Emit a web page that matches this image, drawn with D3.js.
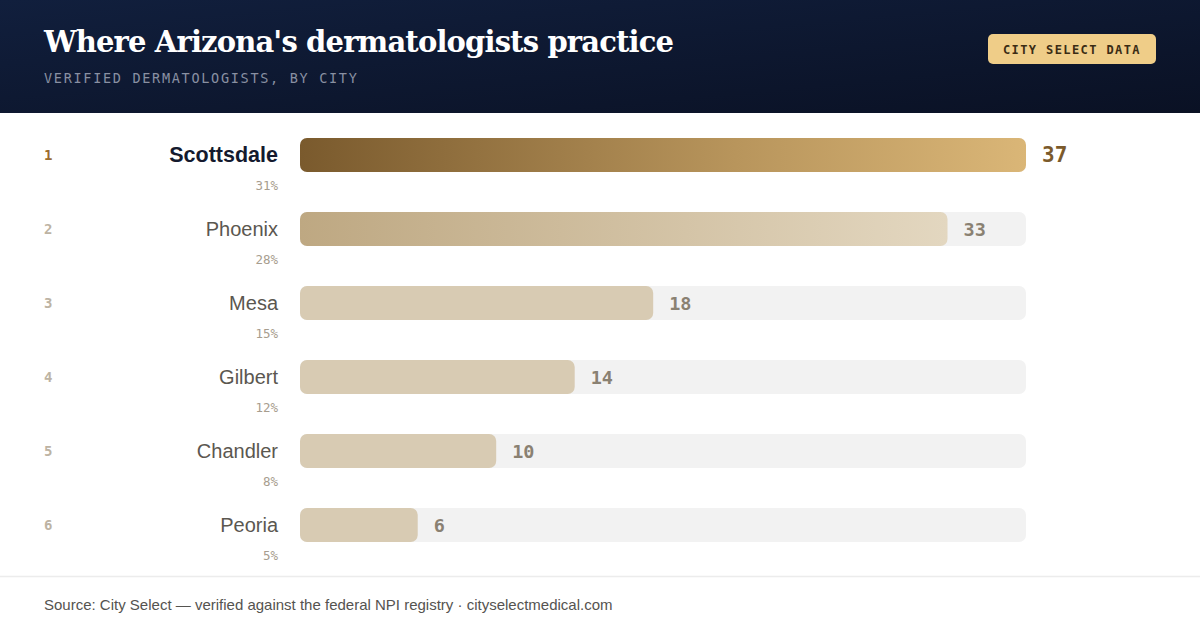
<!DOCTYPE html>
<html>
<head>
<meta charset="utf-8">
<script src="https://cdn.jsdelivr.net/npm/d3@7"></script>
<style>
  html, body { margin: 0; padding: 0; background: #fff; }
  svg { display: block; }
</style>
</head>
<body>
<div id="chart"></div>
<script>
// --- DATA ---
var cities = ["Scottsdale", "Phoenix", "Mesa", "Gilbert", "Chandler", "Peoria"];
var counts = [37, 33, 18, 14, 10, 6];
var title = "Where Arizona's dermatologists practice";
var subtitle = "VERIFIED DERMATOLOGISTS, BY CITY";
var badge = "CITY SELECT DATA";
var source = "Source: City Select \u2014 verified against the federal NPI registry \u00b7 cityselectmedical.com";

// --- SETUP ---
var width = 1200, height = 632;
var mono = "'DejaVu Sans Mono', monospace";
var sans = "'Liberation Sans', Arial, sans-serif";
var total = d3.sum(counts);

var svg = d3.select("#chart").append("svg")
  .attr("width", width)
  .attr("height", height);

var defs = svg.append("defs");

var hdr = defs.append("linearGradient").attr("id", "hdr")
  .attr("x1", "0").attr("y1", "0").attr("x2", "1").attr("y2", "1");
hdr.append("stop").attr("offset", "0").attr("stop-color", "#111f3d");
hdr.append("stop").attr("offset", "1").attr("stop-color", "#0a1124");

var g1 = defs.append("linearGradient").attr("id", "bar1");
g1.append("stop").attr("offset", "0").attr("stop-color", "#7a5a2d");
g1.append("stop").attr("offset", "0.6").attr("stop-color", "#b8955c");
g1.append("stop").attr("offset", "1").attr("stop-color", "#dab677");

var g2 = defs.append("linearGradient").attr("id", "bar2");
g2.append("stop").attr("offset", "0").attr("stop-color", "#bea882");
g2.append("stop").attr("offset", "1").attr("stop-color", "#e3d7c0");

// --- HEADER ---
svg.append("rect").attr("width", width).attr("height", 113).attr("fill", "url(#hdr)");

svg.append("text")
  .attr("x", 44).attr("y", 52)
  .attr("fill", "#fff")
  .style("font-family", "Georgia, 'DejaVu Serif', serif")
  .style("font-weight", "bold")
  .style("font-size", "29px")
  .style("letter-spacing", "-0.85px")
  .text(title);

svg.append("text")
  .attr("x", 44).attr("y", 83)
  .attr("fill", "#8990a2")
  .style("font-family", mono)
  .style("font-size", "13.5px")
  .style("letter-spacing", "1.7px")
  .text(subtitle);

svg.append("rect")
  .attr("x", 988).attr("y", 34).attr("width", 168).attr("height", 30)
  .attr("rx", 5).attr("fill", "#efcd88");
svg.append("text")
  .attr("x", 1072).attr("y", 53.5)
  .attr("text-anchor", "middle")
  .attr("fill", "#3a2c14")
  .style("font-family", mono)
  .style("font-weight", "bold")
  .style("font-size", "12px")
  .style("letter-spacing", "1.4px")
  .text(badge);

// --- SCALES ---
var x = d3.scaleLinear().domain([0, d3.max(counts)]).range([300, 1026]);
var y = d3.scaleBand().domain(cities).range([138, 138 + 74 * cities.length]).paddingInner(0);
var barH = 34;

var rows = svg.selectAll(".row")
  .data(cities.map(function(c, i) { return { city: c, value: counts[i], i: i }; }))
  .enter().append("g").attr("class", "row")
  .attr("transform", function(d) { return "translate(0," + y(d.city) + ")"; });

// track
rows.append("rect")
  .attr("x", x(0)).attr("y", 0)
  .attr("width", x.range()[1] - x(0)).attr("height", barH)
  .attr("rx", 7).attr("fill", "#f2f2f2");

// bar
rows.append("rect")
  .attr("x", x(0)).attr("y", 0)
  .attr("width", function(d) { return x(d.value) - x(0); })
  .attr("height", barH).attr("rx", 7)
  .attr("fill", function(d) {
    return d.i === 0 ? "url(#bar1)" : d.i === 1 ? "url(#bar2)" : "#d8cbb3";
  });

// rank
rows.append("text")
  .attr("x", 44).attr("y", barH / 2 + 5)
  .attr("fill", function(d) { return d.i === 0 ? "#9b6c30" : "#bdb3a3"; })
  .style("font-family", mono)
  .style("font-weight", "bold")
  .style("font-size", "14px")
  .text(function(d) { return d.i + 1; });

// city name
rows.append("text")
  .attr("x", 278).attr("y", barH / 2 + 7)
  .attr("text-anchor", "end")
  .attr("fill", function(d) { return d.i === 0 ? "#141a2e" : "#5b5750"; })
  .style("font-family", sans)
  .style("font-weight", function(d) { return d.i === 0 ? "bold" : "normal"; })
  .style("font-size", function(d) { return d.i === 0 ? "21.5px" : "20px"; })
  .text(function(d) { return d.city; });

// share
rows.append("text")
  .attr("x", 278).attr("y", barH + 18)
  .attr("text-anchor", "end")
  .attr("fill", "#a79d8e")
  .style("font-family", mono)
  .style("font-size", "12.5px")
  .text(function(d) { return Math.round(d.value / total * 100) + "%"; });

// value
rows.append("text")
  .attr("x", function(d) { return x(d.value) + 16; })
  .attr("y", barH / 2 + 7)
  .attr("fill", function(d) { return d.i === 0 ? "#7b5a2b" : "#8a8172"; })
  .style("font-family", mono)
  .style("font-weight", "bold")
  .style("font-size", function(d) { return d.i === 0 ? "21px" : "18.5px"; })
  .text(function(d) { return d.value; });

// --- FOOTER ---
svg.append("line")
  .attr("x1", 0).attr("x2", width).attr("y1", 576.5).attr("y2", 576.5)
  .attr("stroke", "#ececec").attr("stroke-width", 1.5);

svg.append("text")
  .attr("x", 44).attr("y", 610)
  .attr("fill", "#555350")
  .style("font-family", sans)
  .style("font-size", "15px")
  .text(source);
</script>
</body>
</html>
